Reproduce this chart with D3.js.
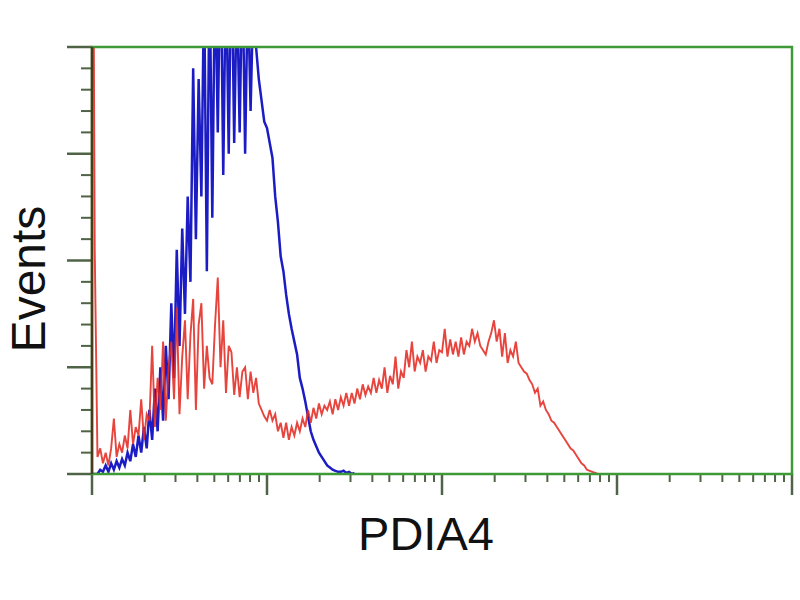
<!DOCTYPE html>
<html><head><meta charset="utf-8">
<script src="https://cdn.jsdelivr.net/npm/d3@7"></script>
<style>html,body{margin:0;padding:0;background:#fff;}</style>
</head><body>
<svg id="c" width="800" height="600"></svg>
<script>
// Histogram counts per channel (256 channels across 4 log decades)
const blueCounts = [0,0,0,2,1,4,1,5,2,6,3,7,4,10,6,14,8,18,10,22,12,30,16,40,20,50,25,60,35,80,
45,105,60,115,75,130,90,190,110,185,130,230,95,240,120,240,160,250,140,240,150,250,155,230,160,240,150,230,170,225,
200,185,175,165,162,155,148,130,118,102,95,84,75,68,62,56,45,40,34,27,20,16,13,10,8,6,4,3,2,1.5,
1,1,1.5,0.5,1,0,0.5];
const redCounts = [400,105,8,12,5,10,4,12,26,8,14,10,18,12,30,14,22,18,35,16,28,25,60,22,45,30,62,25,50,62,
35,78,28,55,72,35,65,82,30,70,80,40,60,45,42,70,92,50,72,38,60,57,37,50,36,48,50,35,48,38,
45,33,30,27,25,30,25,28,20,24,17,24,16,22,18,24,20,26,22,30,24,31,26,33,28,32,30,34,28,35,
30,36,32,38,32,38,33,40,35,42,37,41,38,45,38,44,40,50,38,46,42,55,40,48,45,58,50,62,48,55,
52,58,48,55,53,62,52,58,57,68,55,63,56,62,55,64,56,62,60,68,62,66,60,58,56,62,66,72,62,68,
55,66,52,58,55,62,52,50,48,47,44,42,38,40,32,34,30,28,25,24,22,20,18,16,14,12,11,9,7,5,
4,2,1.5,1,0.5,0];
const xDecades = [1, 10, 100, 1000, 10000];
const yMajorTicks = [0, 50, 100, 150, 200];
const xLabel = "PDIA4";
const yLabel = "Events";

const L = 92, R = 792, T = 47, B = 474;
const svg = d3.select("#c");
const xCh = d3.scaleLinear().domain([0, 256]).range([L, R]);
const xLog = d3.scaleLog().domain([1, 10000]).range([L, R]);
const y = d3.scaleLinear().domain([0, 200]).range([B, T]);

svg.append("defs").append("clipPath").attr("id","clip")
  .append("rect").attr("x", L).attr("y", T).attr("width", R-L).attr("height", B-T);

const tickCol = "#4f6347";
const green = "#3e9a36";

// x ticks (log)
const xMinor = xLog.ticks().filter(v => !xDecades.includes(v));
svg.append("g").selectAll("line").data(xMinor).join("line")
  .attr("x1", d => xLog(d)).attr("x2", d => xLog(d))
  .attr("y1", B).attr("y2", B + 8).attr("stroke", tickCol).attr("stroke-width", 2);
svg.append("g").selectAll("line").data(xDecades).join("line")
  .attr("x1", d => xLog(d)).attr("x2", d => xLog(d))
  .attr("y1", B).attr("y2", B + 21).attr("stroke", tickCol).attr("stroke-width", 2.5);

// y ticks
const yMinor = d3.range(0, 201, 10).filter(v => !yMajorTicks.includes(v));
svg.append("g").selectAll("line").data(yMinor).join("line")
  .attr("x1", L - 11).attr("x2", L)
  .attr("y1", d => y(d)).attr("y2", d => y(d)).attr("stroke", tickCol).attr("stroke-width", 2);
svg.append("g").selectAll("line").data(yMajorTicks).join("line")
  .attr("x1", L - 25).attr("x2", L)
  .attr("y1", d => y(d)).attr("y2", d => y(d)).attr("stroke", tickCol).attr("stroke-width", 2.5);

const line = d3.line().x((d, i) => xCh(i)).y(d => y(d));
const g = svg.append("g").attr("clip-path", "url(#clip)");
g.append("path").datum(blueCounts).attr("d", line)
  .attr("fill", "none").attr("stroke", "#1c1cc4").attr("stroke-width", 2.5);
g.append("path").datum(redCounts).attr("d", line)
  .attr("fill", "none").attr("stroke", "#e42a22").attr("stroke-width", 1.9).attr("stroke-opacity", 0.88);

// frame
svg.append("rect").attr("x", L).attr("y", T).attr("width", R-L).attr("height", B-T)
  .attr("fill", "none").attr("stroke", green).attr("stroke-width", 2.5);
svg.append("line").attr("x1", L).attr("x2", L).attr("y1", T).attr("y2", B)
  .attr("stroke", "#4a3a1e").attr("stroke-width", 2.5);

svg.append("text").attr("x", 426).attr("y", 550).attr("text-anchor", "middle")
  .attr("font-family", "Liberation Sans, Arial, sans-serif").attr("font-size", 47)
  .attr("fill", "#111").text(xLabel);
svg.append("text").attr("transform", "translate(45,279) rotate(-90)").attr("text-anchor", "middle")
  .attr("font-family", "Liberation Sans, Arial, sans-serif").attr("font-size", 48)
  .attr("fill", "#111").text(yLabel);
</script>
</body></html>
